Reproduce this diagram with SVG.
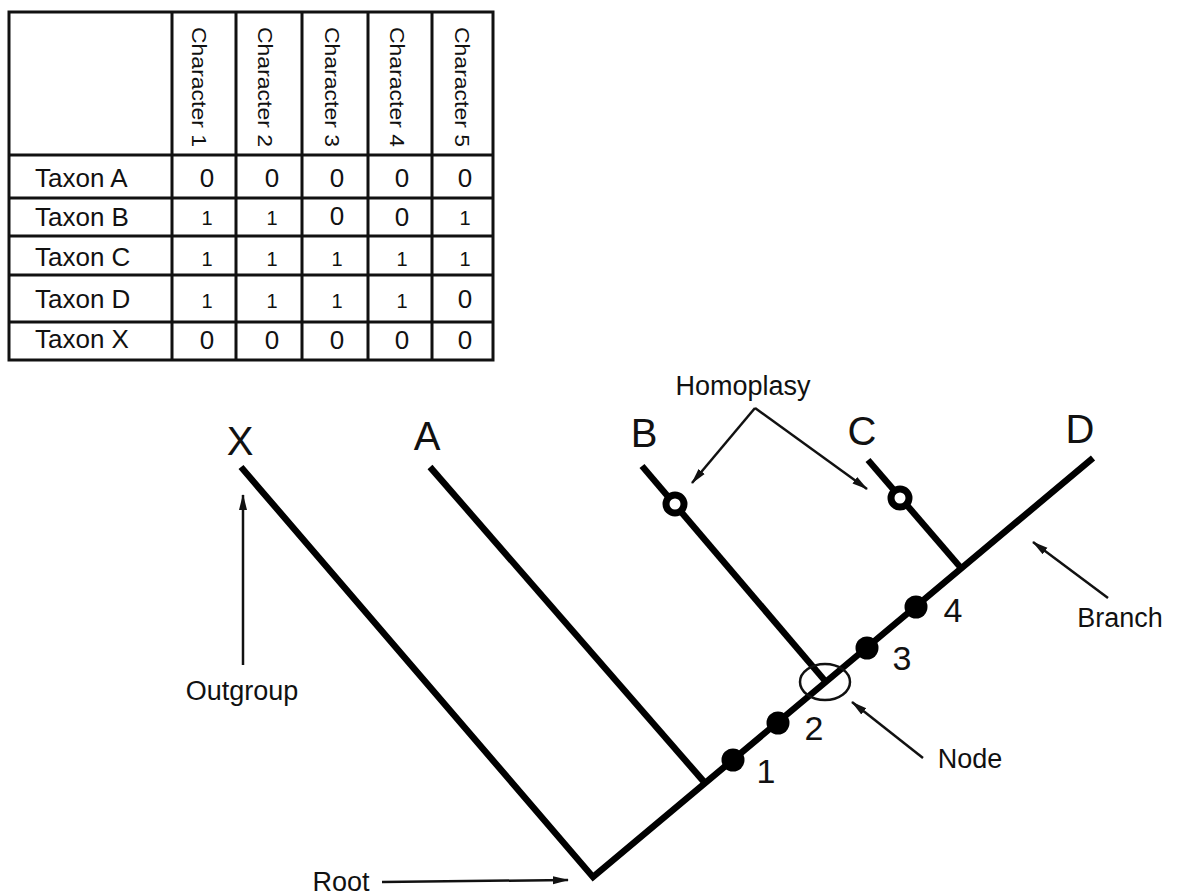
<svg xmlns="http://www.w3.org/2000/svg" width="1179" height="895" viewBox="0 0 1179 895">
<style>
text{font-family:"Liberation Sans",Arial,sans-serif;fill:#111}
.grid{stroke:#111;stroke-width:3;fill:none}
.hdr{font-size:20px}
.tax{font-size:26px}
.z{font-size:26px;text-anchor:middle}
.o{font-size:20px;text-anchor:middle}
.big{font-size:40px;text-anchor:middle}
.num{font-size:34px;text-anchor:middle}
.lbl{font-size:27px;text-anchor:middle}
.br{stroke:#000;stroke-width:6.5;fill:none;stroke-linejoin:miter;stroke-linecap:butt}
.arr{stroke:#111;stroke-width:2.5;fill:none;marker-end:url(#ah)}
.dot{fill:#000}
.hom{fill:#fff;stroke:#000;stroke-width:7}
</style>
<defs>
<marker id="ah" viewBox="0 0 16 10" markerWidth="16" markerHeight="10" refX="15" refY="5" orient="auto" markerUnits="userSpaceOnUse">
<path d="M0,1 L16,5 L0,9 z" fill="#111"/>
</marker>
</defs>
<rect width="1179" height="895" fill="#fff"/>

<g id="table">
<rect class="grid" x="9" y="12" width="484" height="348"/>
<path class="grid" d="M172,12V360M236,12V360M302,12V360M368,12V360M432,12V360M9,155H493M9,198H493M9,236H493M9,275H493M9,322H493"/>
<text class="hdr" transform="translate(192,27) rotate(90)" textLength="120" lengthAdjust="spacingAndGlyphs">Character 1</text>
<text class="hdr" transform="translate(258,27) rotate(90)" textLength="120" lengthAdjust="spacingAndGlyphs">Character 2</text>
<text class="hdr" transform="translate(325,27) rotate(90)" textLength="120" lengthAdjust="spacingAndGlyphs">Character 3</text>
<text class="hdr" transform="translate(390,27) rotate(90)" textLength="120" lengthAdjust="spacingAndGlyphs">Character 4</text>
<text class="hdr" transform="translate(455,27) rotate(90)" textLength="120" lengthAdjust="spacingAndGlyphs">Character 5</text>
<text class="tax" x="35" y="187">Taxon A</text>
<text class="tax" x="35" y="226">Taxon B</text>
<text class="tax" x="35" y="266">Taxon C</text>
<text class="tax" x="35" y="308">Taxon D</text>
<text class="tax" x="35" y="348">Taxon X</text>
<g id="row-a">
<text class="z" x="207" y="187">0</text><text class="z" x="272" y="187">0</text><text class="z" x="337" y="187">0</text><text class="z" x="402" y="187">0</text><text class="z" x="465" y="187">0</text>
</g>
<g id="row-b">
<text class="o" x="207" y="225">1</text><text class="o" x="272" y="225">1</text><text class="z" x="337" y="225">0</text><text class="z" x="402" y="226">0</text><text class="o" x="465" y="225">1</text>
</g>
<g id="row-c">
<text class="o" x="207" y="266">1</text><text class="o" x="272" y="266">1</text><text class="o" x="337" y="266">1</text><text class="o" x="402" y="266">1</text><text class="o" x="465" y="266">1</text>
</g>
<g id="row-d">
<text class="o" x="207" y="308">1</text><text class="o" x="272" y="308">1</text><text class="o" x="337" y="308">1</text><text class="o" x="402" y="308">1</text><text class="z" x="465" y="308">0</text>
</g>
<g id="row-x">
<text class="z" x="207" y="349">0</text><text class="z" x="272" y="349">0</text><text class="z" x="337" y="349">0</text><text class="z" x="402" y="349">0</text><text class="z" x="465" y="349">0</text>
</g>
</g>

<g id="tree-branches">
<polyline class="br" points="241,467 593,877 1093,458"/>
<line class="br" x1="430" y1="467" x2="705" y2="783"/>
<line class="br" x1="642" y1="466" x2="826" y2="682"/>
<line class="br" x1="868" y1="460" x2="961" y2="568"/>
</g>

<g id="taxon-x"><text class="big" x="240" y="455">X</text></g>
<g id="taxon-a"><text class="big" x="427" y="450">A</text></g>
<g id="taxon-b"><text class="big" x="644" y="447">B</text><circle class="hom" cx="675" cy="504" r="9"/></g>
<g id="taxon-c"><text class="big" x="862" y="445">C</text><circle class="hom" cx="900" cy="498" r="9"/></g>
<g id="taxon-d"><text class="big" x="1080" y="443">D</text></g>

<g id="char-1"><circle class="dot" cx="733" cy="760" r="11.5"/><text class="num" x="766" y="783">1</text></g>
<g id="char-2"><circle class="dot" cx="778" cy="723" r="11.5"/><text class="num" x="814" y="740">2</text></g>
<g id="char-3"><circle class="dot" cx="867" cy="648" r="11.5"/><text class="num" x="902" y="670">3</text></g>
<g id="char-4"><circle class="dot" cx="916" cy="607" r="11.5"/><text class="num" x="953" y="622">4</text></g>

<g id="node-marker"><ellipse cx="825" cy="682" rx="25" ry="18" fill="none" stroke="#111" stroke-width="2.5"/></g>

<g id="labels">
<text class="lbl" x="743" y="395">Homoplasy</text>
<text class="lbl" x="242" y="700">Outgroup</text>
<text class="lbl" x="1120" y="627">Branch</text>
<text class="lbl" x="970" y="768">Node</text>
<text class="lbl" x="341" y="891">Root</text>
</g>

<g id="connectors">
<line class="arr" x1="755" y1="408" x2="692" y2="483"/>
<line class="arr" x1="755" y1="408" x2="867" y2="489"/>
<line class="arr" x1="243" y1="665" x2="243" y2="495"/>
<line class="arr" x1="1108" y1="598" x2="1033" y2="542"/>
<line class="arr" x1="923" y1="758" x2="852" y2="702"/>
<line class="arr" x1="382" y1="882" x2="568" y2="880"/>
</g>
</svg>
